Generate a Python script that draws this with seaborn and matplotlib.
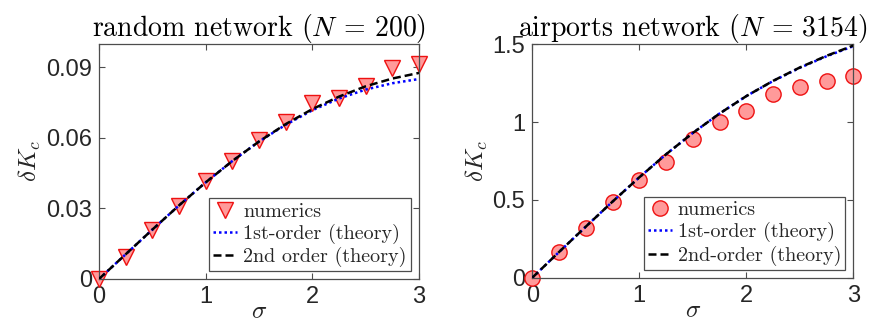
import matplotlib
matplotlib.use("Agg")
import matplotlib.pyplot as plt
import seaborn as sns
import numpy as np

sigma = [0, 0.25, 0.5, 0.75, 1.0, 1.25, 1.5, 1.75, 2.0, 2.25, 2.5, 2.75, 3.0]

# random network (N = 200)
rand_numerics = [0.0, 0.0095, 0.0209, 0.0312, 0.0415, 0.0501, 0.0590, 0.0668,
                 0.0748, 0.0771, 0.0823, 0.0899, 0.0917]
rand_first = [0.0, 0.0105, 0.0210, 0.0313, 0.0411, 0.0502, 0.0585, 0.0656,
              0.0718, 0.0768, 0.0806, 0.0833, 0.0851]
rand_second = [0.0, 0.0105, 0.0210, 0.0313, 0.0411, 0.0502, 0.0585, 0.0659,
               0.0723, 0.0776, 0.0820, 0.0853, 0.0877]

# airports network (N = 3154)
air_numerics = [0.0, 0.167, 0.321, 0.488, 0.628, 0.746, 0.889, 0.999,
                1.071, 1.178, 1.224, 1.262, 1.296]
air_first = [0.0, 0.165, 0.328, 0.489, 0.645, 0.793, 0.930, 1.055,
             1.167, 1.264, 1.349, 1.423, 1.488]
air_second = [0.0, 0.165, 0.328, 0.489, 0.645, 0.793, 0.930, 1.055,
              1.167, 1.265, 1.351, 1.426, 1.492]

titles = ["random network ($N$ = 200)", "airports network ($N$ = 3154)"]
legend_labels = [["numerics", "1st-order (theory)", "2nd order (theory)"],
                 ["numerics", "1st-order (theory)", "2nd-order (theory)"]]
yticks = [[0, 0.03, 0.06, 0.09], [0, 0.5, 1, 1.5]]
yticklabels = [["0", "0.03", "0.06", "0.09"], ["0", "0.5", "1", "1.5"]]
xticks = [0, 1, 2, 3]
xticklabels = ["0", "1", "2", "3"]
ylims = [(0, 0.1), (0, 1.5)]

sns.set_style("white")
plt.rcParams["mathtext.fontset"] = "cm"
plt.rcParams["font.family"] = ["Liberation Sans", "DejaVu Sans"]

fig = plt.figure(figsize=(8.72, 3.24), dpi=100)
ax1 = fig.add_axes([0.1135, 0.1389, 0.367, 0.7253])
ax2 = fig.add_axes([0.6104, 0.1429, 0.3682, 0.7204])

datasets = [
    (ax1, rand_numerics, rand_first, rand_second, "v", 12),
    (ax2, air_numerics, air_first, air_second, "o", 11),
]

face = "#ff9a9a"
edge = "#ee1111"
axcol = "#4d4d4d"
txtcol = "#262626"

for i, (ax, num, first, second, mk, ms) in enumerate(datasets):
    sns.lineplot(x=sigma, y=num, ax=ax, linestyle="none", marker=mk,
                 markersize=ms, markerfacecolor=face, markeredgecolor=edge,
                 markeredgewidth=1.0, label=legend_labels[i][0], clip_on=False,
                 zorder=2)
    sns.lineplot(x=sigma, y=first, ax=ax, color="#0000ff", linestyle=(0, (1, 1.2)),
                 linewidth=1.8, label=legend_labels[i][1], zorder=3)
    sns.lineplot(x=sigma, y=second, ax=ax, color="black", linestyle=(0, (3.2, 1.6)),
                 linewidth=1.8, label=legend_labels[i][2], zorder=4)
    ax.set_xlim(0, 3)
    ax.set_ylim(*ylims[i])
    ax.set_xticks(xticks)
    ax.set_xticklabels(xticklabels)
    ax.set_yticks(yticks[i])
    ax.set_yticklabels(yticklabels[i])
    ax.tick_params(direction="in", length=4, width=0.8, colors=axcol,
                   labelcolor=txtcol, labelsize=17, top=True, right=True,
                   bottom=True, left=True)
    ax.tick_params(axis="x", pad=5)
    ax.tick_params(axis="y", pad=5)
    for s in ax.spines.values():
        s.set_color(axcol)
        s.set_linewidth(0.9)
        s.set_visible(True)
    ax.set_title(titles[i], family="cmr10", fontsize=20, color="black", pad=6)
    ax.set_xlabel(r"$\sigma$", fontsize=18, color=txtcol, labelpad=-6)
    ax.set_ylabel(r"$\delta K_c$", fontsize=18, color=txtcol, labelpad=2)
    leg = ax.legend(loc="lower right", prop={"family": "cmr10", "size": 14.5},
                    frameon=True, fancybox=False, framealpha=1,
                    edgecolor=axcol, borderpad=0.2, labelspacing=0.15,
                    handlelength=1.2, handletextpad=0.3, borderaxespad=0.4)
    leg.get_frame().set_linewidth(0.9)

fig.savefig("out.png", dpi=100)
